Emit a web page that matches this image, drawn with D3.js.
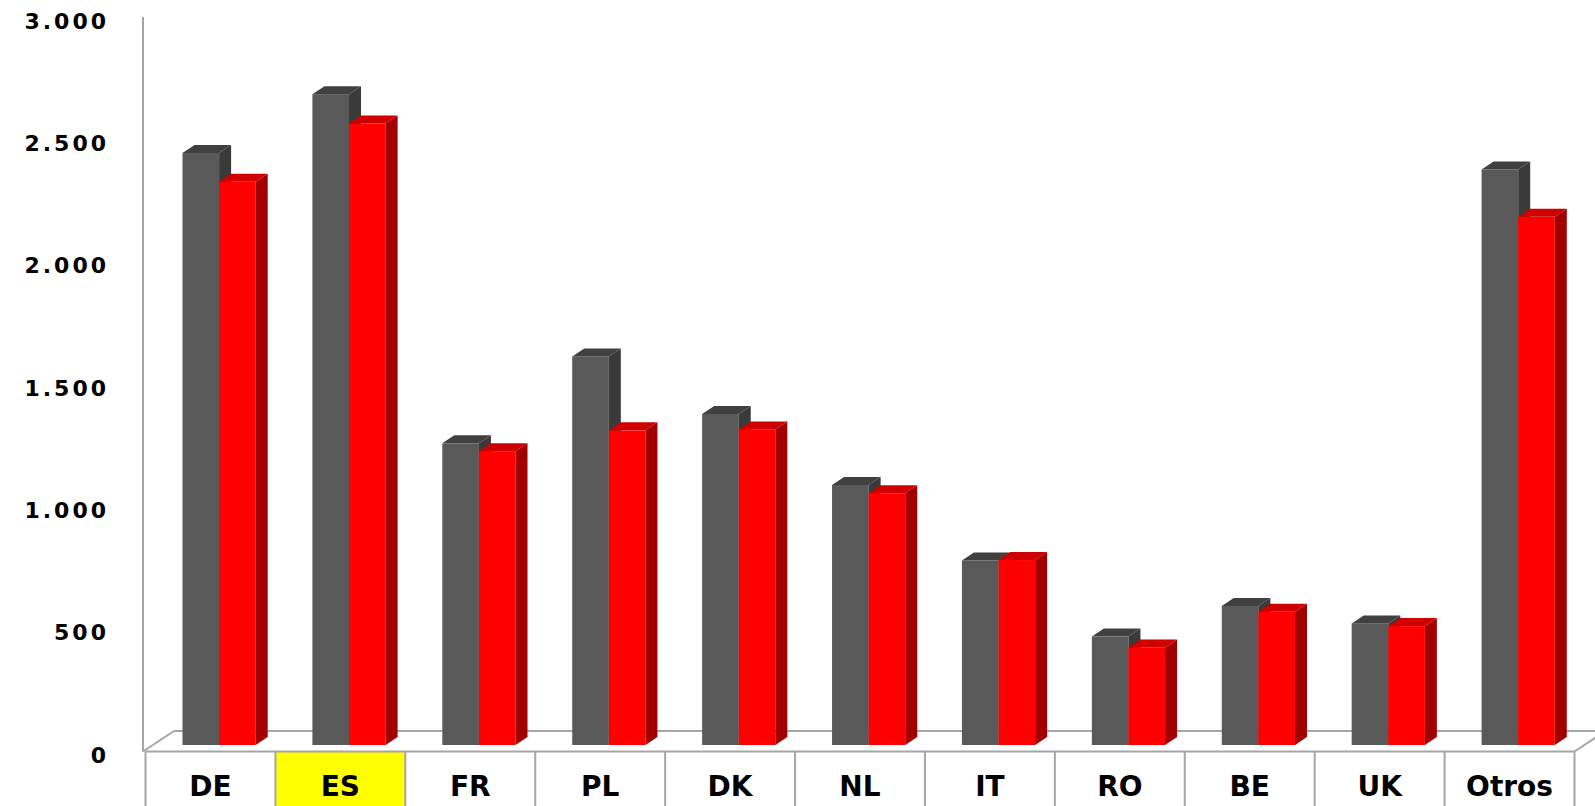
<!DOCTYPE html>
<html>
<head>
<meta charset="utf-8">
<script src="https://cdn.jsdelivr.net/npm/d3@7"></script>
<style>
  html, body { margin: 0; padding: 0; background: #fff; }
  svg { display: block; }
  .ylab { font-family: "DejaVu Sans", sans-serif; font-weight: 700; font-size: 22px; letter-spacing: 3px; }
  .xlab { font-family: "DejaVu Sans", sans-serif; font-weight: 700; font-size: 28px; }
</style>
</head>
<body>
<svg id="chart" width="1595" height="806"></svg>
<script>
const categories = ["DE", "ES", "FR", "PL", "DK", "NL", "IT", "RO", "BE", "UK", "Otros"];
const seriesGray = [2420, 2660, 1233, 1588, 1353, 1063, 754, 443, 568, 497, 2352];
const seriesRed  = [2302, 2540, 1201, 1286, 1290, 1029, 756, 399, 545, 486, 2159];
const yTicks = [0, 500, 1000, 1500, 2000, 2500, 3000];
const tickLabels = ["0", "500", "1.000", "1.500", "2.000", "2.500", "3.000"];
const highlighted = "ES";

const svg = d3.select("#chart");
const W = 1595, H = 806;

// geometry
const tableLeft = 145.5, tableRight = 1574.5, tableTop = 751.5;
const floorBack = 731, depthX = 31;
const barBase = 745;
const dx = 12, dy = 8;

const x = d3.scaleBand().domain(categories).range([tableLeft, tableRight]).paddingInner(0).paddingOuter(0);
const yBar = d3.scaleLinear().domain([0, 3000]).range([barBase, barBase - 734]);
const yLab = d3.scaleLinear().domain([0, 3000]).range([755, 21]);

const barW = 36.6;
const barOffset = 37;

// left wall line
svg.append("line").attr("x1", 143).attr("x2", 143).attr("y1", 17).attr("y2", tableTop)
  .attr("stroke", "#a6a6a6").attr("stroke-width", 2);

// floor
svg.append("line").attr("x1", 143).attr("y1", tableTop).attr("x2", 143 + depthX).attr("y2", floorBack)
  .attr("stroke", "#a6a6a6").attr("stroke-width", 2);
svg.append("line").attr("x1", 143 + depthX).attr("y1", floorBack).attr("x2", W + 10).attr("y2", floorBack)
  .attr("stroke", "#a6a6a6").attr("stroke-width", 2);
svg.append("line").attr("x1", tableRight).attr("y1", tableTop).attr("x2", tableRight + depthX).attr("y2", floorBack)
  .attr("stroke", "#a6a6a6").attr("stroke-width", 2);

// y labels
svg.append("g").selectAll("text").data(yTicks).join("text")
  .attr("class", "ylab")
  .attr("x", 109).attr("y", d => yLab(d))
  .attr("text-anchor", "end").attr("dominant-baseline", "central")
  .text((d, i) => tickLabels[i]);

// bars
function bar3d(g, x0, v, cFront, cTop, cSide) {
  const yt = yBar(v), x1 = x0 + barW;
  g.append("rect").attr("x", x0).attr("y", yt).attr("width", barW).attr("height", barBase - yt).attr("fill", cFront);
  g.append("path").attr("d", `M${x1},${yt}L${x1 + dx},${yt - dy}L${x1 + dx},${barBase - dy}L${x1},${barBase}Z`).attr("fill", cSide);
  g.append("path").attr("d", `M${x0},${yt}L${x0 + dx},${yt - dy}L${x1 + dx},${yt - dy}L${x1},${yt}Z`).attr("fill", cTop);
}
const gBars = svg.append("g");
categories.forEach((c, i) => {
  const gx = x(c) + barOffset;
  bar3d(gBars, gx, seriesGray[i], "#595959", "#404040", "#3a3a3a");
  bar3d(gBars, gx + barW, seriesRed[i], "#ff0000", "#d00000", "#a00000");
});

// category table
const gT = svg.append("g");
gT.selectAll("rect.hl").data(categories.filter(c => c === highlighted)).join("rect")
  .attr("x", d => x(d)).attr("y", tableTop).attr("width", x.bandwidth()).attr("height", H - tableTop + 2)
  .attr("fill", "#ffff00");
gT.append("line").attr("x1", tableLeft).attr("x2", tableRight).attr("y1", tableTop).attr("y2", tableTop)
  .attr("stroke", "#a6a6a6").attr("stroke-width", 2);
gT.selectAll("line.v").data(categories.map(c => x(c)).concat([tableRight])).join("line")
  .attr("x1", d => d).attr("x2", d => d).attr("y1", tableTop).attr("y2", H)
  .attr("stroke", "#a6a6a6").attr("stroke-width", 2);
gT.selectAll("text").data(categories).join("text")
  .attr("class", "xlab")
  .attr("x", d => x(d) + x.bandwidth() / 2).attr("y", 786)
  .attr("text-anchor", "middle").attr("dominant-baseline", "central")
  .text(d => d);
</script>
</body>
</html>
